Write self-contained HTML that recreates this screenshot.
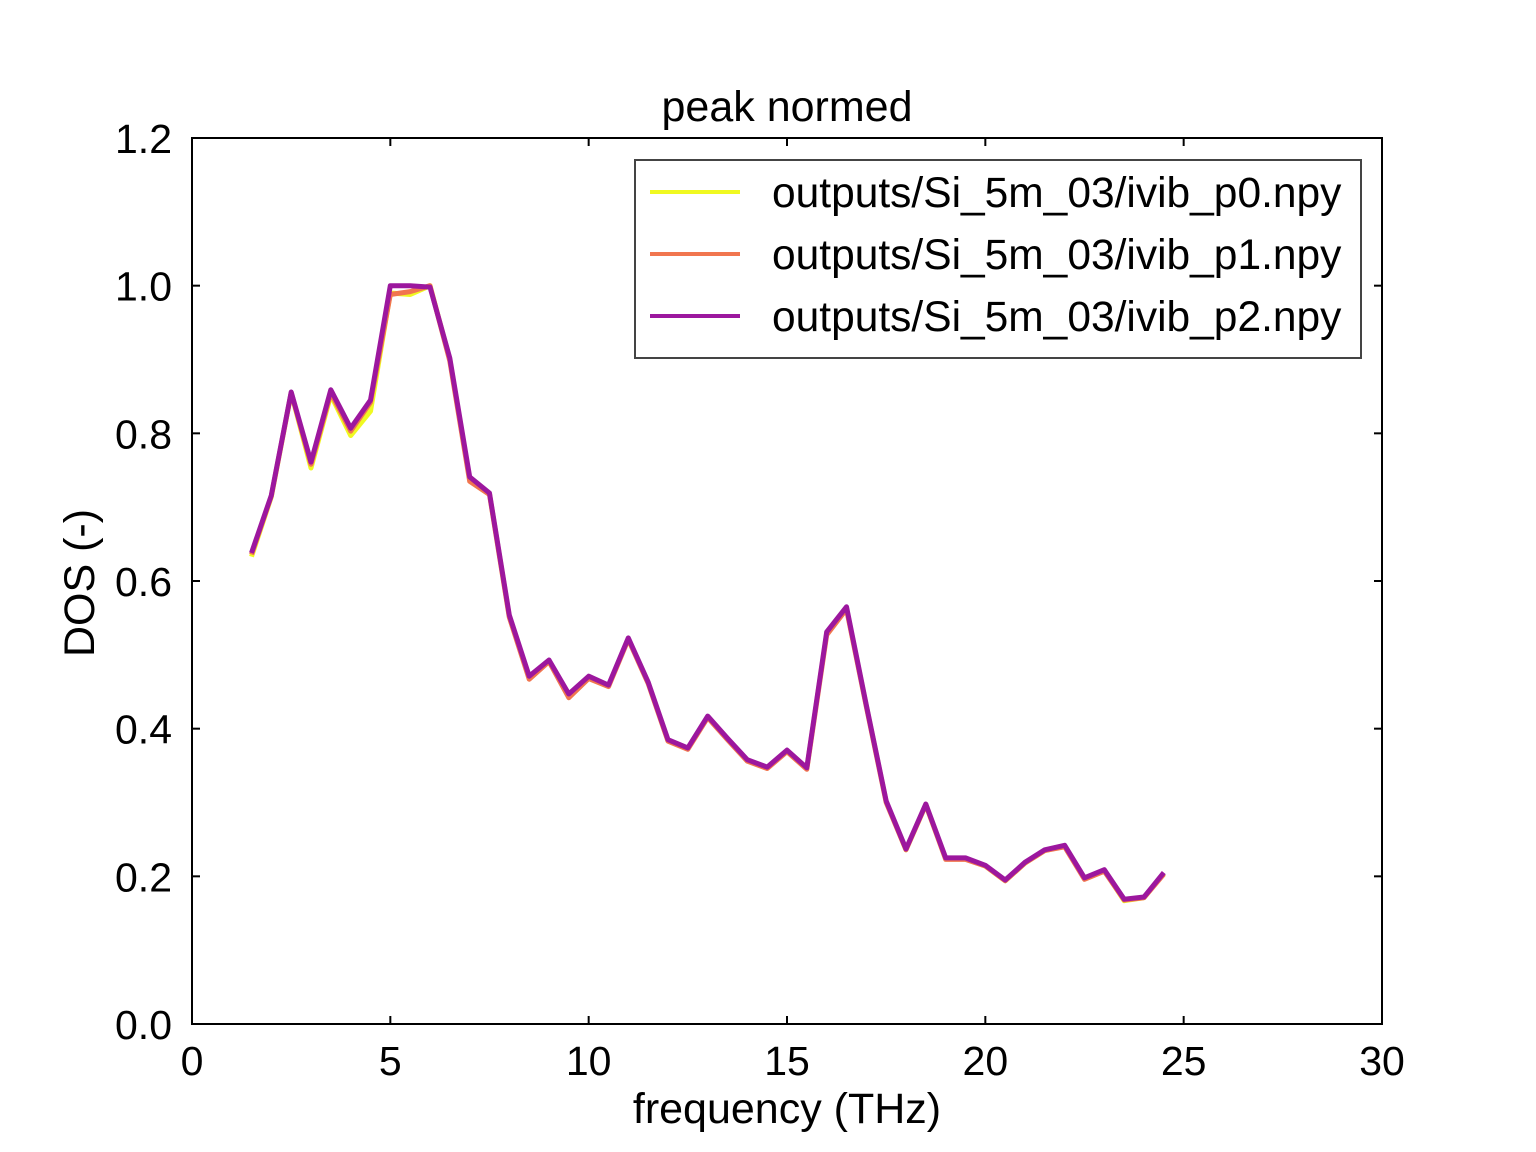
<!DOCTYPE html>
<html><head><meta charset="utf-8"><style>
html,body{margin:0;padding:0;background:#fff;}
svg{display:block;font-family:"Liberation Sans",Arial,sans-serif;}
</style></head><body>
<svg id="chart" width="1536" height="1152" viewBox="0 0 1536 1152" xmlns="http://www.w3.org/2000/svg">
<rect width="1536" height="1152" fill="#fff"/>
<text x="787" y="121" font-size="43" text-anchor="middle">peak normed</text>
<g id="lines"></g>
<rect x="192" y="138" width="1190" height="886" fill="none" stroke="#000" stroke-width="2"/>
<g id="ticks"></g>
<text x="787" y="1123" font-size="43" text-anchor="middle">frequency (THz)</text>
<text transform="translate(94,583) rotate(-90)" font-size="43" text-anchor="middle">DOS (-)</text>
<g id="legend">
<rect x="635" y="160" width="726" height="198" fill="#fff" stroke="#444" stroke-width="2"/>
</g>
</svg>
<script>
const freqs = [1.5,2,2.5,3,3.5,4,4.5,5,5.5,6,6.5,7,7.5,8,8.5,9,9.5,10,10.5,11,11.5,12,12.5,13,13.5,14,14.5,15,15.5,16,16.5,17,17.5,18,18.5,19,19.5,20,20.5,21,21.5,22,22.5,23,23.5,24,24.5];
const p2 = [0.638,0.716,0.856,0.761,0.859,0.807,0.845,1.0,1.0,0.998,0.902,0.741,0.719,0.554,0.471,0.493,0.447,0.471,0.459,0.523,0.463,0.385,0.374,0.417,0.387,0.358,0.348,0.371,0.347,0.531,0.565,0.432,0.302,0.237,0.298,0.225,0.225,0.215,0.195,0.219,0.236,0.242,0.198,0.209,0.169,0.172,0.205];
const p1 = [0.636,0.715,0.855,0.758,0.855,0.803,0.842,0.988,0.992,1.0,0.898,0.735,0.717,0.551,0.467,0.491,0.442,0.468,0.457,0.521,0.461,0.383,0.372,0.415,0.385,0.356,0.346,0.369,0.345,0.527,0.562,0.43,0.3,0.236,0.297,0.223,0.223,0.214,0.194,0.218,0.235,0.24,0.196,0.207,0.168,0.171,0.203];
const p0 = [0.633,0.714,0.855,0.753,0.852,0.797,0.83,0.99,0.988,1.0,0.9,0.738,0.718,0.552,0.469,0.492,0.444,0.47,0.458,0.522,0.462,0.384,0.373,0.416,0.386,0.357,0.347,0.37,0.346,0.529,0.563,0.431,0.301,0.236,0.297,0.224,0.224,0.214,0.194,0.218,0.235,0.241,0.197,0.208,0.167,0.171,0.204];
const xTicks = [0,5,10,15,20,25,30];
const yTicks = [0.0,0.2,0.4,0.6,0.8,1.0,1.2];
const seriesNames = ["outputs/Si_5m_03/ivib_p0.npy","outputs/Si_5m_03/ivib_p1.npy","outputs/Si_5m_03/ivib_p2.npy"];
const seriesColors = ["#f0f921","#f1764f","#9c179e"];
const seriesData = [p0,p1,p2];

const NS="http://www.w3.org/2000/svg";
const X0=192,X1=1382,Y0=1024,Y1=138;
function xs(v){return X0+(v-0)/(30-0)*(X1-X0);}
function ys(v){return Y0-(v-0)/(1.2-0)*(Y0-Y1);}

const lines=document.getElementById('lines');
seriesData.forEach((d,i)=>{
  const pl=document.createElementNS(NS,'polyline');
  pl.setAttribute('points',d.map((v,j)=>xs(freqs[j]).toFixed(1)+','+ys(v).toFixed(1)).join(' '));
  pl.setAttribute('fill','none');
  pl.setAttribute('stroke',seriesColors[i]);
  pl.setAttribute('stroke-width','5');
  pl.setAttribute('stroke-linejoin','round');
  
  
  lines.appendChild(pl);
});

const ticks=document.getElementById('ticks');
function line(x1,y1,x2,y2,name){
  const l=document.createElementNS(NS,'line');
  l.setAttribute('x1',x1);l.setAttribute('y1',y1);l.setAttribute('x2',x2);l.setAttribute('y2',y2);
  l.setAttribute('stroke','#000');l.setAttribute('stroke-width','2');
  
  
  ticks.appendChild(l);
}
function text(x,y,s,anchor,name){
  const t=document.createElementNS(NS,'text');
  t.setAttribute('x',x);t.setAttribute('y',y);t.setAttribute('font-size','41');
  t.setAttribute('text-anchor',anchor);t.textContent=s;
  
  
  ticks.appendChild(t);
}
xTicks.forEach(v=>{
  const x=xs(v);
  line(x,Y0,x,Y0-8,'x-tick');
  line(x,Y1,x,Y1+8,'x-tick-top');
  text(x,Y0+51,String(v),'middle','x-tick-label');
});
yTicks.forEach(v=>{
  const y=ys(v);
  line(X0,y,X0+8,y,'y-tick');
  line(X1,y,X1-8,y,'y-tick-right');
  text(X0-20,y+15,v.toFixed(1),'end','y-tick-label');
});

const legend=document.getElementById('legend');
seriesNames.forEach((n,i)=>{
  const y=192+i*62;
  const l=document.createElementNS(NS,'line');
  l.setAttribute('x1',650);l.setAttribute('x2',740);l.setAttribute('y1',y);l.setAttribute('y2',y);
  l.setAttribute('stroke',seriesColors[i]);l.setAttribute('stroke-width','4');
  
  
  legend.appendChild(l);
  const t=document.createElementNS(NS,'text');
  t.setAttribute('x',772);t.setAttribute('y',y+15);t.setAttribute('font-size','42.5');
  t.textContent=n;
  
  
  legend.appendChild(t);
});
</script>
</body></html>
